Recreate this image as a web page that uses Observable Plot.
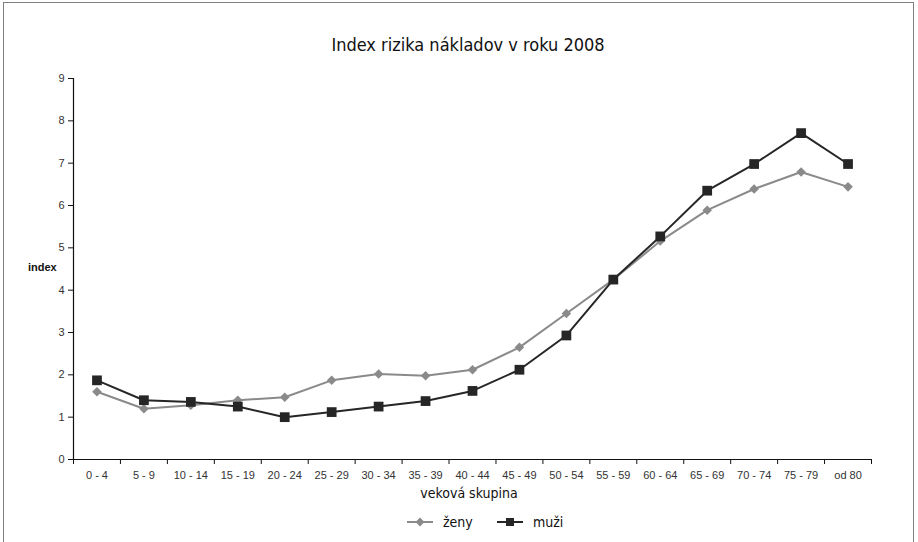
<!DOCTYPE html>
<html><head><meta charset="utf-8">
<script src="https://cdn.jsdelivr.net/npm/d3@7"></script>
<script src="https://cdn.jsdelivr.net/npm/@observablehq/plot@0.6"></script>
<style>
body{margin:0;background:#fff;}
#wrap{position:relative;width:918px;height:542px;overflow:hidden;background:#fff;}
#border{position:absolute;left:3px;top:2px;width:911px;height:560px;border:1px solid #808080;box-sizing:border-box;pointer-events:none;}
#title{position:absolute;left:0;width:936px;top:34px;text-align:center;font-family:"Liberation Sans Narrow","DejaVu Sans Condensed",sans-serif;font-size:18px;color:#111;}
#plot{position:absolute;left:0;top:0;}
#ylab{position:absolute;left:28px;top:261px;font-family:"Liberation Sans",Arial,sans-serif;font-weight:bold;font-size:11px;color:#111;}
#xlab{position:absolute;left:0;width:938px;top:485px;text-align:center;font-family:"Liberation Sans Narrow","DejaVu Sans Condensed",sans-serif;font-size:14px;color:#111;}
#legend{position:absolute;left:0;top:512px;}
</style></head>
<body>
<div id="wrap">
  <div id="plot"></div>
  <div id="title">Index rizika nákladov v roku 2008</div>
  <div id="ylab">index</div>
  <div id="xlab">veková skupina</div>
  <div id="legend"></div>
  <div id="border"></div>
</div>
<script>
const categories = ["0 - 4","5 - 9","10 - 14","15 - 19","20 - 24","25 - 29","30 - 34","35 - 39","40 - 44","45 - 49","50 - 54","55 - 59","60 - 64","65 - 69","70 - 74","75 - 79","od 80"];
const zeny = [1.60,1.20,1.28,1.40,1.47,1.87,2.02,1.98,2.12,2.65,3.45,4.25,5.16,5.89,6.39,6.79,6.44];
const muzi = [1.87,1.40,1.36,1.25,1.00,1.12,1.25,1.38,1.62,2.12,2.93,4.25,5.27,6.35,6.98,7.71,6.98];
const yTicks = [0,1,2,3,4,5,6,7,8,9];
const seriesNames = ["ženy","muži"];
const colors = {"ženy":"#8a8a8a","muži":"#262626"};

const n = categories.length;
const data = [];
categories.forEach((c,i)=>{
  data.push({cat:c, i:i+0.5, v:zeny[i], s:"ženy"});
  data.push({cat:c, i:i+0.5, v:muzi[i], s:"muži"});
});
const boundaries = d3.range(n+1);
const centers = d3.range(n).map(i=>i+0.5);

const font = '"Liberation Sans", Arial, sans-serif';
const chart = Plot.plot({
  width: 918, height: 542,
  marginLeft: 73, marginRight: 918-871, marginTop: 78, marginBottom: 83,
  style: {fontFamily: font, fontSize: "11px", color: "#333", background: "transparent"},
  x: {type: "linear", domain: [0, n]},
  y: {domain: [0, 9]},
  marks: [
    Plot.axisX({ticks: boundaries, tickFormat: () => "", tickSize: 5, label: null, stroke: "#111"}),
    Plot.axisX({ticks: centers, tickFormat: d => categories[Math.floor(d)], tickSize: 0, tickPadding: 12, label: null, fill: "#333"}),
    Plot.axisY({ticks: yTicks, tickSize: 5, tickPadding: 4, label: null, stroke: "#111", fill: "#333"}),
    Plot.ruleY([0], {stroke: "#111", strokeWidth: 1.2}),
    Plot.ruleX([0], {stroke: "#111", strokeWidth: 1.2}),
    Plot.line(data.filter(d=>d.s==="ženy"), {x: "i", y: "v", stroke: colors["ženy"], strokeWidth: 2}),
    Plot.line(data.filter(d=>d.s==="muži"), {x: "i", y: "v", stroke: colors["muži"], strokeWidth: 2}),
    Plot.dot(data.filter(d=>d.s==="ženy"), {x: "i", y: "v", symbol: "diamond2", r: 4.3, fill: colors["ženy"], stroke: "none"}),
    Plot.dot(data.filter(d=>d.s==="muži"), {x: "i", y: "v", symbol: "square", r: 5.5, fill: colors["muži"], stroke: "none"})
  ]
});
document.getElementById("plot").appendChild(chart);

// legend
const lg = d3.select("#legend").append("svg").attr("width", 918).attr("height", 24);
const items = [
  {name: seriesNames[0], x: 407, sym: d3.symbolDiamond2, size: 50},
  {name: seriesNames[1], x: 497, sym: d3.symbolSquare, size: 64}
];
items.forEach(it => {
  const g = lg.append("g").attr("transform", `translate(${it.x},10)`);
  g.append("line").attr("x1", 0).attr("x2", 26).attr("y1", 0).attr("y2", 0)
    .attr("stroke", colors[it.name]).attr("stroke-width", 2);
  g.append("path").attr("d", d3.symbol(it.sym, it.size)()).attr("transform", "translate(13,0)")
    .attr("fill", colors[it.name]);
  g.append("text").attr("x", 36).attr("y", 0).attr("dy", "0.35em")
    .attr("font-family", '"Liberation Sans Narrow","DejaVu Sans Condensed",sans-serif')
    .attr("font-size", 14).attr("fill", "#111").text(it.name);
});
</script>
</body></html>
